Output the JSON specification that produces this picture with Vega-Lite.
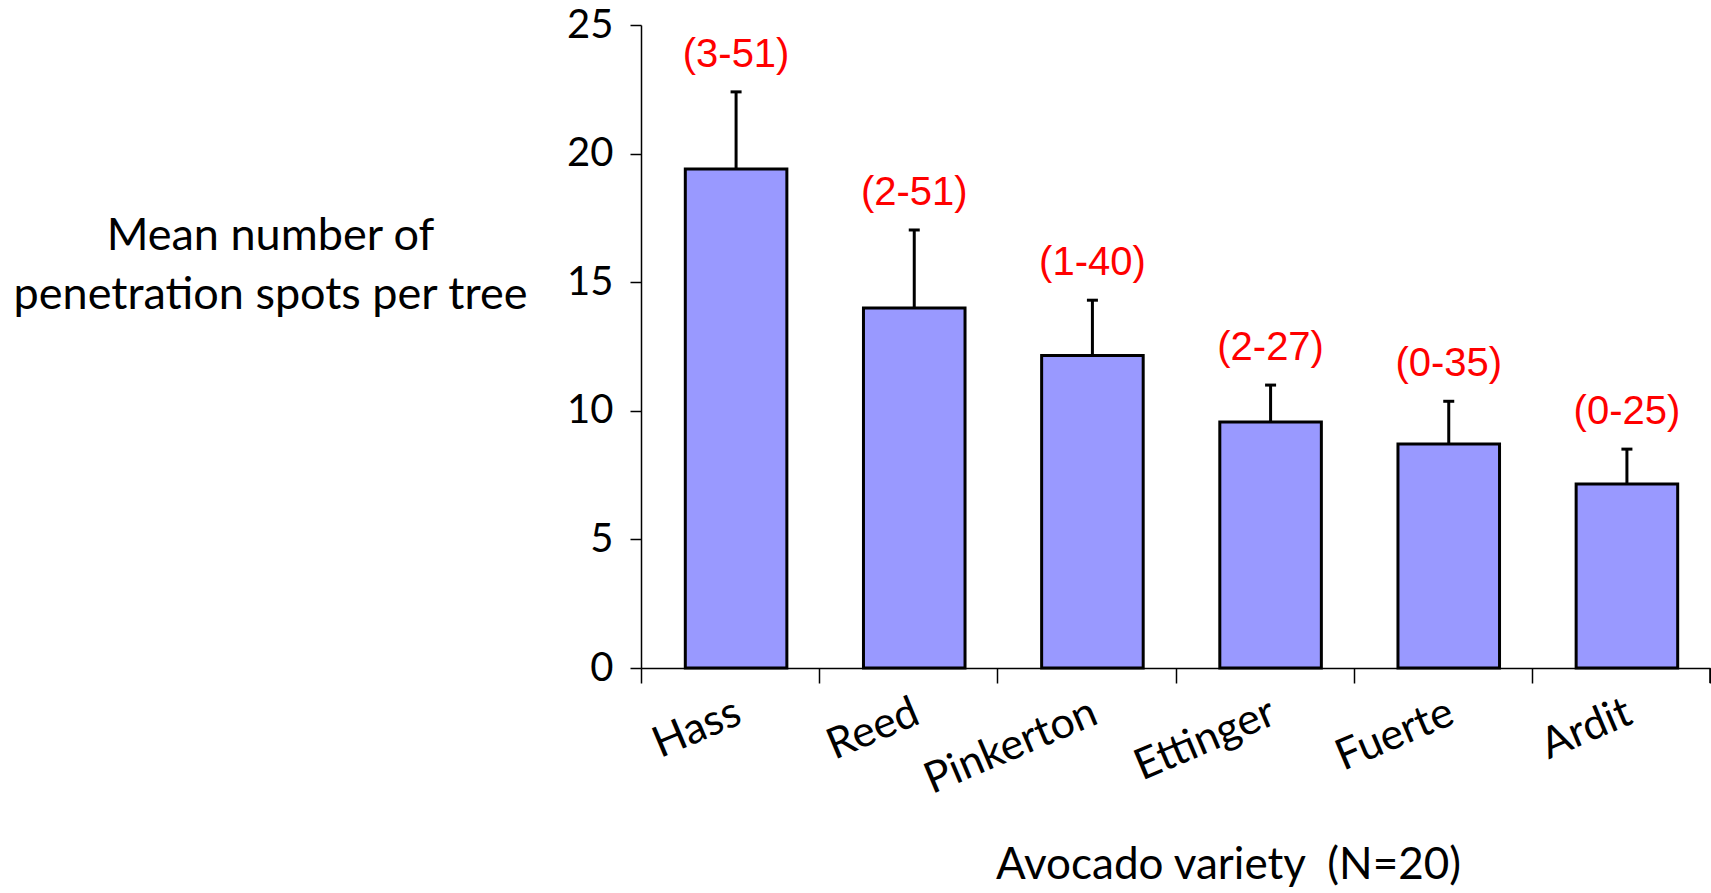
{
  "$schema": "https://vega.github.io/schema/vega-lite/v6.json",
  "width": 1069,
  "height": 643,
  "autosize": "none",
  "padding": {"left": 641, "top": 25, "right": 1, "bottom": 225},
  "background": "white",
  "config": {"view": {"stroke": null}},
  "data": {
    "values": [
      {"variety": "Hass", "mean": 19.4, "upper": 22.4, "range": "(3-51)"},
      {"variety": "Reed", "mean": 14.0, "upper": 17.03, "range": "(2-51)"},
      {"variety": "Pinkerton", "mean": 12.15, "upper": 14.3, "range": "(1-40)"},
      {"variety": "Ettinger", "mean": 9.56, "upper": 11.0, "range": "(2-27)"},
      {"variety": "Fuerte", "mean": 8.71, "upper": 10.37, "range": "(0-35)"},
      {"variety": "Ardit", "mean": 7.15, "upper": 8.51, "range": "(0-25)"}
    ]
  },
  "encoding": {
    "x": {
      "field": "variety",
      "type": "nominal",
      "sort": null,
      "scale": {"paddingInner": 0, "paddingOuter": 0},
      "axis": {
        "title": "Avocado variety\u00a0\u00a0(N=20)",
        "titleFont": "Lato",
        "titleFontSize": 44,
        "titleFontWeight": "normal",
        "titleColor": "black",
        "titleX": 587,
        "titleY": 210,
        "titleAlign": "center",
        "titleBaseline": "alphabetic",
        "labelFont": "Lato",
        "labelFontSize": 43,
        "labelColor": "black",
        "labelAngle": -23,
        "labelAlign": "right",
        "labelBaseline": "top",
        "labelPadding": 8,
        "labelLimit": 0,
        "labelOverlap": false,
        "bandPosition": 0,
        "tickBand": "extent",
        "tickSize": 15,
        "tickColor": "black",
        "tickWidth": 1.5,
        "domainColor": "black",
        "domainWidth": 1.5
      }
    }
  },
  "layer": [
    {
      "mark": {"type": "bar", "fill": "#9999FF", "stroke": "black", "strokeWidth": 3, "width": {"band": 0.57}, "xOffset": 6},
      "encoding": {
        "y": {
          "field": "mean",
          "type": "quantitative",
          "scale": {"domain": [0, 25], "nice": false},
          "axis": {
            "values": [0, 5, 10, 15, 20, 25],
            "grid": false,
            "title": ["Mean number of", "penetration spots per tree"],
            "titleFont": "Lato",
            "titleFontSize": 45,
            "titleFontWeight": "normal",
            "titleColor": "black",
            "titleAngle": 0,
            "titleAlign": "center",
            "titleBaseline": "middle",
            "titleLineHeight": 59,
            "titleX": -371,
            "titleY": 210,
            "labelFont": "Lato",
            "labelFontSize": 40,
            "labelColor": "black",
            "labelPadding": 17,
            "labelFlush": false,
            "tickSize": 11,
            "tickColor": "black",
            "tickWidth": 1.5,
            "domainColor": "black",
            "domainWidth": 1.5
          }
        }
      }
    },
    {
      "mark": {"type": "rule", "stroke": "black", "strokeWidth": 3, "xOffset": 6},
      "encoding": {
        "y": {"field": "mean", "type": "quantitative"},
        "y2": {"field": "upper"}
      }
    },
    {
      "mark": {"type": "tick", "color": "black", "size": 11, "thickness": 3, "opacity": 1, "xOffset": 6},
      "encoding": {
        "y": {"field": "upper", "type": "quantitative"}
      }
    },
    {
      "mark": {"type": "text", "color": "red", "font": "Liberation Sans", "fontSize": 40, "baseline": "middle", "dy": -37, "xOffset": 6},
      "encoding": {
        "y": {"field": "upper", "type": "quantitative"},
        "text": {"field": "range"}
      }
    },
    {
      "data": {"values": [{"variety": "Ardit"}]},
      "mark": {"type": "rule", "stroke": "black", "strokeWidth": 1.5},
      "encoding": {
        "x": {"field": "variety", "type": "nominal", "bandPosition": 1},
        "y": {"datum": 0, "type": "quantitative"},
        "y2": {"datum": -0.58}
      }
    }
  ]
}
